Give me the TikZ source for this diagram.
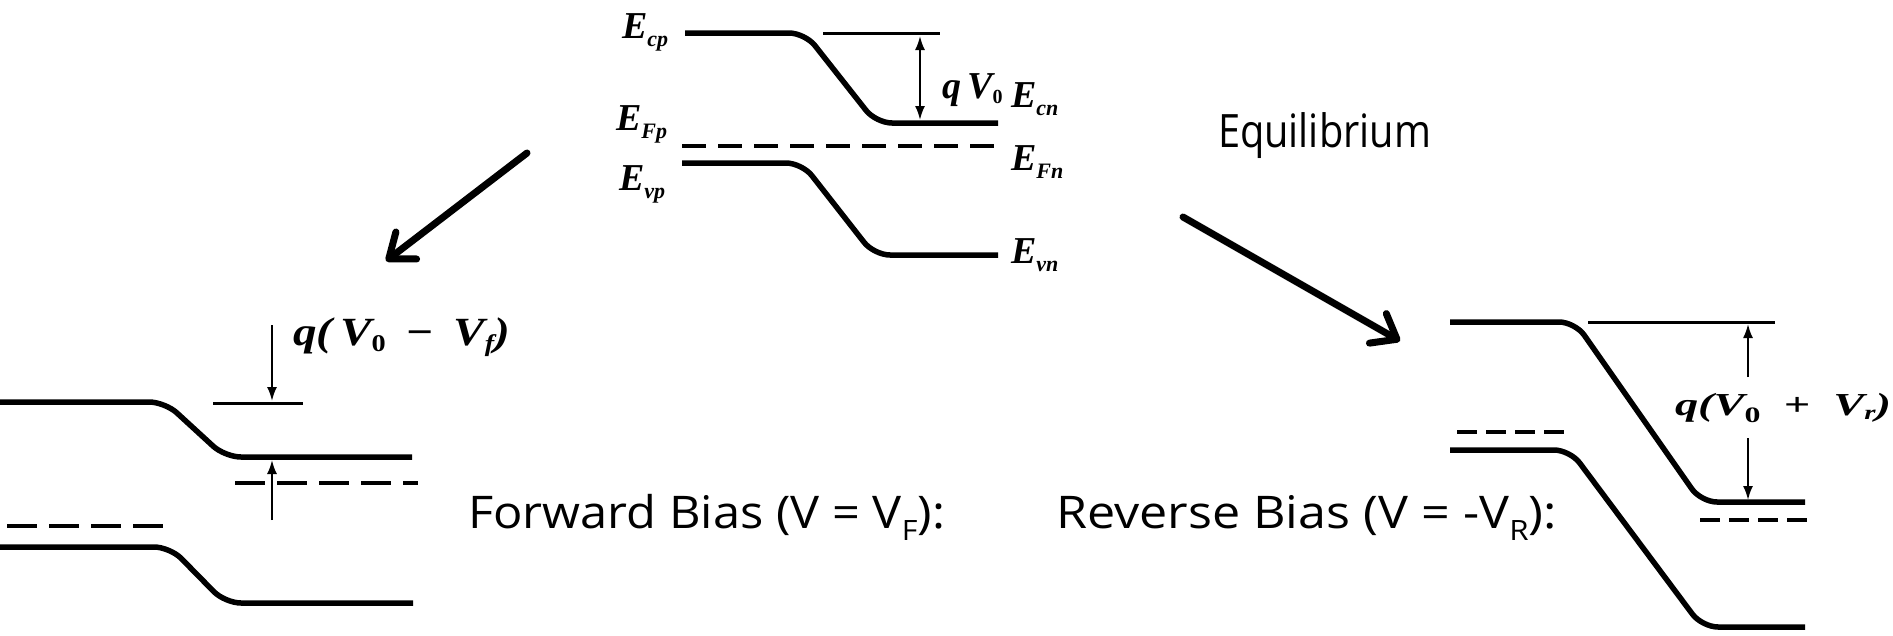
\documentclass[tikz,border=0pt]{standalone}
\usepackage{fontspec}
\usepackage{graphicx}
\usetikzlibrary{arrows.meta}
\setmainfont{Open Sans}
\newfontfamily\bandfont{Liberation Serif}
\newcommand\sublow[2]{\raisebox{-#1}{\fontsize{22}{22}\selectfont #2}}
\newcommand\txtsub[1]{\raisebox{-12pt}{\fontsize{28}{28}\selectfont #1}}
\begin{document}
\begin{tikzpicture}[x=1pt,y=-1pt,
  band/.style={line width=5.5pt, rounded corners=16pt},
  refline/.style={line width=3pt},
  fermi/.style={line width=4pt},
  dimarrow/.style={line width=2pt, -{Latex[length=14pt,width=10pt]}},
  dimboth/.style={line width=2pt, {Latex[length=14pt,width=10pt]}-{Latex[length=14pt,width=10pt]}},
  bigarrow/.style={line width=7pt, line cap=round, -{Straight Barb[length=22pt,width=34pt,round]}},
  lbl/.style={inner sep=0pt, outer sep=0pt, anchor=base west, font=\bandfont\bfseries\itshape\fontsize{38}{38}\selectfont},
  txt/.style={inner sep=0pt, outer sep=0pt, anchor=base west, font=\fontsize{45}{45}\selectfont}]
\useasboundingbox (0,0) rectangle (1893,635);

% ---------- Equilibrium ----------
\draw[band] (685,33) -- (805,33) -- (876,123) -- (998,123);
\draw[refline] (823,33) -- (940,33);
\draw[fermi, dash pattern=on 24pt off 12pt] (682,146) -- (1000,146);
\draw[band] (682,163) -- (802,163) -- (874,255) -- (998,255);
\coordinate (eqt) at (920,36);
\coordinate (eqb) at (920,120);
\draw[dimboth] (eqt) -- (eqb);

\node[lbl] (ecp) at (622,38) {E\sublow{8pt}{cp}};
\node[lbl] (efp) at (616,130) {E\sublow{8pt}{Fp}};
\node[lbl] (evp) at (619,190) {E\sublow{8pt}{vp}};
\node[lbl] (ecn) at (1011,107) {E\sublow{8pt}{cn}};
\node[lbl] (efn) at (1011,170) {E\sublow{8pt}{Fn}};
\node[lbl] (evn) at (1011,263) {E\sublow{8pt}{vn}};
\node[lbl] (qv0) at (942,98) {q\,V\raisebox{-5pt}{\fontsize{20}{20}\selectfont\upshape 0}};
\node[txt, font=\fontsize{46}{46}\selectfont] (eqtxt) at (1218,147) {\resizebox{213pt}{\height}{Equilibrium}};

% ---------- Forward bias ----------
\draw[band] (0,402) -- (165,402) -- (225,457) -- (412,457);
\draw[refline] (213,403) -- (303,403);
\draw[fermi, dash pattern=on 30pt off 12pt] (235,483) -- (418,483);
\draw[fermi, dash pattern=on 30pt off 12pt] (7,526) -- (165,526);
\draw[band] (0,547) -- (170,547) -- (225,603) -- (413,603);
\coordinate (ft1) at (272,325);
\coordinate (ft2) at (272,401);
\coordinate (fb1) at (272,520);
\coordinate (fb2) at (272,460);
\draw[dimarrow] (ft1) -- (ft2);
\draw[dimarrow] (fb1) -- (fb2);
\node[lbl, font=\bandfont\bfseries\itshape\fontsize{40}{40}\selectfont] (qfwd) at (293,345)
  {\resizebox{217pt}{\height}{q(\,V\raisebox{-6pt}{\fontsize{24}{24}\selectfont\upshape 0}\, − \,V\raisebox{-6pt}{\fontsize{24}{24}\selectfont f})}};
\node[txt] (fwdtxt) at (468,528) {\resizebox{477pt}{\height}{Forward Bias (V = V\txtsub{F}):}};

% ---------- Reverse bias ----------
\draw[band] (1450,322) -- (1575,322) -- (1701,502) -- (1805,502);
\draw[refline] (1588,322) -- (1775,322);
\draw[fermi, dash pattern=on 20pt off 9pt] (1457,432) -- (1570,432);
\draw[band] (1450,450) -- (1570,450) -- (1702,627) -- (1805,627);
\draw[fermi, dash pattern=on 20pt off 9pt] (1700,520) -- (1812,520);
\coordinate (rt1) at (1748,377);
\coordinate (rt2) at (1748,324);
\coordinate (rb1) at (1748,438);
\coordinate (rb2) at (1748,500);
\draw[dimarrow] (rt1) -- (rt2);
\draw[dimarrow] (rb1) -- (rb2);
\node[lbl, font=\bandfont\bfseries\itshape\fontsize{32}{32}\selectfont] (qrev) at (1675,415)
  {\resizebox{216pt}{\height}{q(V\raisebox{-7pt}{\fontsize{22}{22}\selectfont\upshape 0}\ \ +\ \ V\raisebox{-4pt}{\fontsize{20}{20}\selectfont r})}};
\node[txt] (revtxt) at (1056,528) {\resizebox{501pt}{\height}{Reverse Bias (V = -V\txtsub{R}):}};

% ---------- big arrows ----------
\coordinate (a1s) at (527,153);
\coordinate (a1e) at (386,261);
\coordinate (a2s) at (1183,217);
\coordinate (a2e) at (1400,341);
\draw[bigarrow] (a1s) -- (a1e);
\draw[bigarrow] (a2s) -- (a2e);
\end{tikzpicture}
\end{document}
